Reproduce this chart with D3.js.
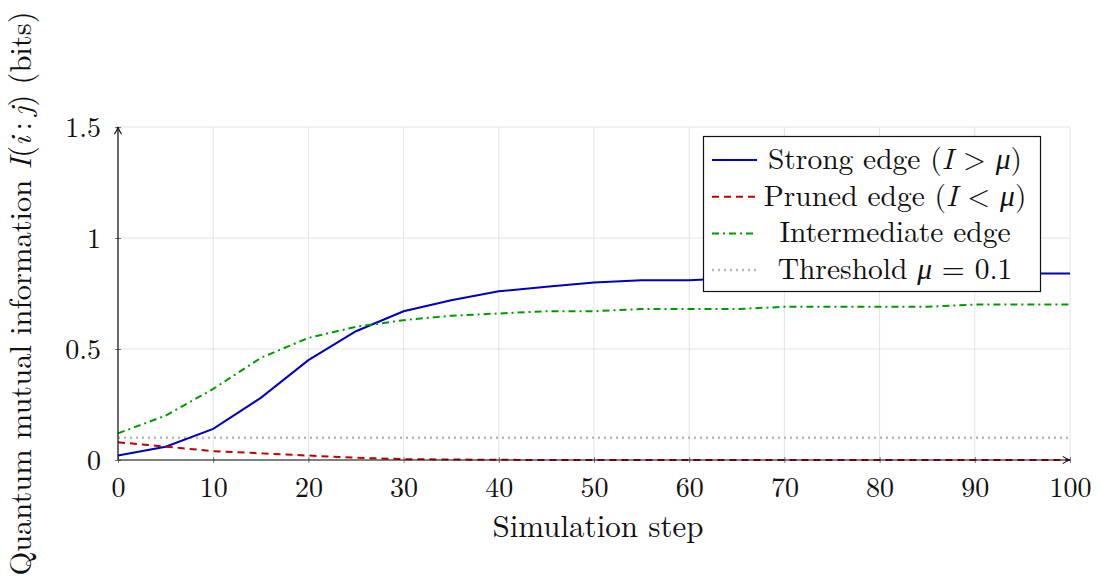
<!DOCTYPE html>
<html>
<head>
<meta charset="utf-8">
<script src="https://cdn.jsdelivr.net/npm/d3@7"></script>
<style>
  body { margin: 0; background: #fff; }
  svg text { font-family: "Latin Modern Roman", "CMU Serif", "Liberation Serif", serif; fill: #111; }
</style>
</head>
<body>
<svg id="chart" width="1099" height="585"></svg>
<script>
// Data (simulation steps every 5)
const steps = [0, 5, 10, 15, 20, 25, 30, 35, 40, 45, 50, 55, 60, 65, 70, 75, 80, 85, 90, 95, 100];
const strongEdge = [0.02, 0.06, 0.14, 0.28, 0.45, 0.58, 0.67, 0.72, 0.76, 0.78, 0.80, 0.81, 0.81, 0.82, 0.83, 0.83, 0.84, 0.84, 0.84, 0.84, 0.84];
const prunedEdge = [0.08, 0.06, 0.04, 0.03, 0.02, 0.01, 0.004, 0.002, 0.001, 0, 0, 0, 0, 0, 0, 0, 0, 0, 0, 0, 0];
const intermediateEdge = [0.12, 0.20, 0.32, 0.46, 0.55, 0.60, 0.63, 0.65, 0.66, 0.67, 0.67, 0.68, 0.68, 0.68, 0.69, 0.69, 0.69, 0.69, 0.70, 0.70, 0.70];
const threshold = 0.1;

const xTicks = [0, 10, 20, 30, 40, 50, 60, 70, 80, 90, 100];
const yTicks = [0, 0.5, 1, 1.5];

const svg = d3.select('#chart');
const margin = { left: 118, right: 29, top: 127, bottom: 125 };
const width = 1099 - margin.left - margin.right;
const height = 585 - margin.top - margin.bottom;

const x = d3.scaleLinear().domain([0, 100]).range([margin.left, margin.left + width]);
const y = d3.scaleLinear().domain([0, 1.5]).range([margin.top + height, margin.top]);

// grid
svg.append('g').selectAll('line').data(xTicks).join('line')
  .attr('x1', d => x(d)).attr('x2', d => x(d))
  .attr('y1', y(0)).attr('y2', y(1.5))
  .attr('stroke', '#e3e3e3').attr('stroke-width', 1);
svg.append('g').selectAll('line').data(yTicks).join('line')
  .attr('x1', x(0)).attr('x2', x(100))
  .attr('y1', d => y(d)).attr('y2', d => y(d))
  .attr('stroke', '#e3e3e3').attr('stroke-width', 1);

// axes
const xAxis = svg.append('g')
  .attr('transform', `translate(0,${y(0)})`)
  .call(d3.axisBottom(x).tickValues(xTicks).tickFormat(d3.format('d')).tickSize(6).tickSizeOuter(0));
const yAxis = svg.append('g')
  .attr('transform', `translate(${x(0)},0)`)
  .call(d3.axisLeft(y).tickValues(yTicks).tickFormat(d => String(d)).tickSize(6).tickSizeOuter(0));

[xAxis, yAxis].forEach(g => {
  g.select('.domain').remove();
  g.selectAll('.tick line').attr('stroke', '#777').attr('stroke-width', 1)
    .attr('transform', g === xAxis ? 'translate(0,-3)' : 'translate(3,0)');
  g.selectAll('.tick text').attr('font-size', 28).attr('fill', '#111')
    .style('font-family', '"Latin Modern Roman", "CMU Serif", "Liberation Serif", serif');
});
xAxis.selectAll('.tick text').attr('y', 37).attr('dy', null);
yAxis.selectAll('.tick text').attr('x', -17).attr('dy', '0.34em');

// series
const series = [
  { name: 'strong', values: strongEdge, color: '#0000b8', dash: null, width: 2 },
  { name: 'intermediate', values: intermediateEdge, color: '#009900', dash: '7,4,2,4', width: 2 },
  { name: 'pruned', values: prunedEdge, color: '#c00000', dash: '7,5', width: 2 }
];
const line = d3.line().x((d, i) => x(steps[i])).y(d => y(d));

// threshold line
svg.append('line')
  .attr('x1', x(0)).attr('x2', x(100))
  .attr('y1', y(threshold)).attr('y2', y(threshold))
  .attr('stroke', '#b8b8b8').attr('stroke-width', 2.5).attr('stroke-dasharray', '2,4');

series.forEach(s => {
  svg.append('path').datum(s.values)
    .attr('d', line)
    .attr('fill', 'none')
    .attr('stroke', s.color)
    .attr('stroke-width', s.width)
    .attr('stroke-dasharray', s.dash);
});

// axis lines with arrows
const defs = svg.append('defs');
defs.append('marker').attr('id', 'arrow')
  .attr('viewBox', '0 0 10 10').attr('refX', 9).attr('refY', 5)
  .attr('markerWidth', 9).attr('markerHeight', 9).attr('markerUnits', 'userSpaceOnUse')
  .attr('orient', 'auto')
  .append('path').attr('d', 'M1,1 Q5,4 9,5 Q5,6 1,9').attr('fill', 'none').attr('stroke', '#111').attr('stroke-width', 1.2);
svg.append('line').attr('x1', x(0)).attr('x2', x(100)).attr('y1', y(0)).attr('y2', y(0))
  .attr('stroke', '#111').attr('stroke-width', 1.2).attr('marker-end', 'url(#arrow)');
svg.append('line').attr('x1', x(0)).attr('x2', x(0)).attr('y1', y(0)).attr('y2', y(1.5))
  .attr('stroke', '#111').attr('stroke-width', 1.2).attr('marker-end', 'url(#arrow)');

// axis labels
svg.append('text')
  .attr('x', 598).attr('y', 537)
  .attr('text-anchor', 'middle').attr('font-size', 31)
  .text('Simulation step');

const yLabel = svg.append('text')
  .attr('transform', `translate(31,${(y(0) + y(1.5)) / 2}) rotate(-90)`)
  .attr('text-anchor', 'middle').attr('font-size', 30.5);
yLabel.append('tspan').text('Quantum mutual information ');
yLabel.append('tspan').attr('font-style', 'italic').text('I');
yLabel.append('tspan').text('(');
yLabel.append('tspan').attr('font-style', 'italic').text('i');
yLabel.append('tspan').text('\u2009:\u2009');
yLabel.append('tspan').attr('font-style', 'italic').text('j');
yLabel.append('tspan').text(')  (bits)');

// legend
const legendItems = [
  { parts: [['Strong edge (', 0], ['I', 1], [' > ', 0], ['μ', 1], [')', 0]], color: '#0000b8', dash: null, w: 2 },
  { parts: [['Pruned edge (', 0], ['I', 1], [' < ', 0], ['μ', 1], [')', 0]], color: '#c00000', dash: '7,5', w: 2 },
  { parts: [['Intermediate edge', 0]], color: '#009900', dash: '7,4,2,4', w: 2 },
  { parts: [['Threshold ', 0], ['μ', 1], [' = 0.1', 0]], color: '#b8b8b8', dash: '2,4', w: 2.5 }
];
const legend = svg.append('g');
legend.append('rect')
  .attr('x', 703.5).attr('y', 136.5).attr('width', 337).attr('height', 155)
  .attr('fill', '#fff').attr('stroke', '#111').attr('stroke-width', 1.2);
legendItems.forEach((item, i) => {
  const cy = 160 + i * 36.7;
  legend.append('line')
    .attr('x1', 712).attr('x2', 757).attr('y1', cy).attr('y2', cy)
    .attr('stroke', item.color).attr('stroke-width', item.w)
    .attr('stroke-dasharray', item.dash);
  const t = legend.append('text')
    .attr('x', 895).attr('y', cy + 9)
    .attr('text-anchor', 'middle').attr('font-size', 29.5);
  item.parts.forEach(([s, it]) => {
    const ts = t.append('tspan').text(s);
    if (it) ts.attr('font-style', 'italic');
  });
});
</script>
</body>
</html>
